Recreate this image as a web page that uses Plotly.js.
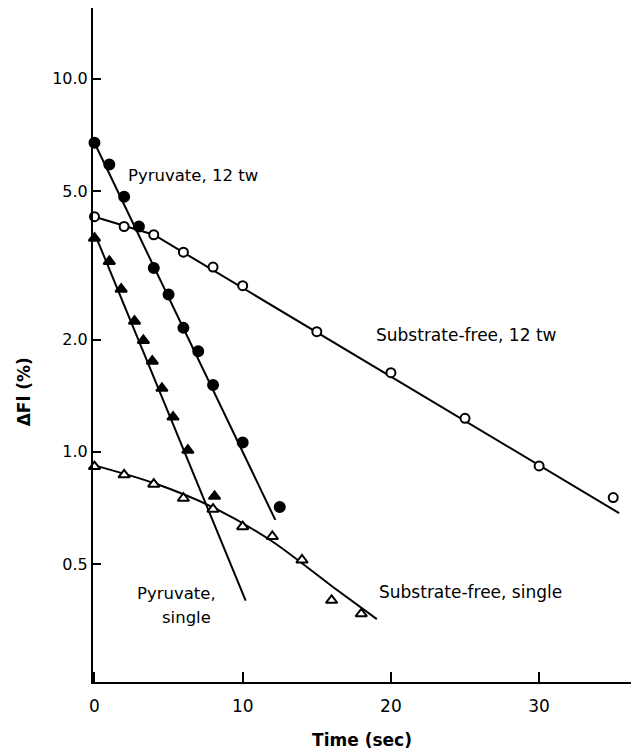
<!DOCTYPE html>
<html>
<head>
<meta charset="utf-8">
<script src="https://cdn.plot.ly/plotly-3.0.1.min.js"></script>
<style>html,body{margin:0;padding:0;background:#fff;}#chart{width:631px;height:750px;}</style>
</head>
<body>
<div id="chart"></div>
<script>
// Measured points
const pyr12X = [0, 1, 2, 3, 4, 5, 6, 7, 8, 10, 12.5];
const pyr12Y = [6.74, 5.89, 4.83, 4.02, 3.11, 2.64, 2.15, 1.86, 1.51, 1.06, 0.711];
const pyrSingleX = [0, 1, 1.8, 2.7, 3.3, 3.9, 4.55, 5.3, 6.3, 8.1];
const pyrSingleY = [3.74, 3.24, 2.73, 2.24, 1.99, 1.75, 1.48, 1.24, 1.01, 0.76];
const sf12X = [0, 2, 4, 6, 8, 10, 15, 20, 25, 30, 35];
const sf12Y = [4.27, 4.02, 3.82, 3.43, 3.13, 2.79, 2.10, 1.63, 1.23, 0.917, 0.754];
const sfSingleX = [0, 2, 4, 6, 8, 10, 12, 14, 16, 18];
const sfSingleY = [0.913, 0.868, 0.819, 0.751, 0.702, 0.630, 0.593, 0.513, 0.40, 0.368];

// Drawn fit lines
const pyr12LineX = [0, 12.2];
const pyr12LineY = [6.74, 0.657];
const pyrSingleLineX = [0, 10.2];
const pyrSingleLineY = [3.86, 0.399];
const sf12LineX = [0, 4, 35.4];
const sf12LineY = [4.27, 3.82, 0.685];
const sfSingleLineX = [0, 4, 8, 12, 16, 19.05];
const sfSingleLineY = [0.92, 0.825, 0.71, 0.575, 0.437, 0.356];

// Axis ticks
const xTickVals = [0, 10, 20, 30];
const xTickText = ['0', '10', '20', '30'];
const yTickVals = [0.5, 1, 2, 5, 10];
const yTickText = ['0.5', '1.0', '2.0', '5.0', '10.0'];

const FONT = 'DejaVu Sans, Liberation Sans, Arial, sans-serif';

function lineTrace(x, y, shape) {
  return {x: x, y: y, type: 'scatter', mode: 'lines',
    line: {color: '#000', width: 2, shape: shape || 'linear', smoothing: 0.8},
    hoverinfo: 'skip', showlegend: false};
}
function markTrace(x, y, symbol, size, filled) {
  return {x: x, y: y, type: 'scatter', mode: 'markers', cliponaxis: false, showlegend: false,
    marker: {symbol: symbol, size: size, color: filled ? '#000' : '#fff',
      line: {color: '#000', width: 2}}};
}

const data = [
  lineTrace(pyr12LineX, pyr12LineY),
  lineTrace(pyrSingleLineX, pyrSingleLineY),
  lineTrace(sf12LineX, sf12LineY),
  lineTrace(sfSingleLineX, sfSingleLineY, 'spline'),
  markTrace(pyr12X, pyr12Y, 'circle', 10, true),
  markTrace(pyrSingleX, pyrSingleY, 'triangle-up', 10, true),
  markTrace(sf12X, sf12Y, 'circle', 9, false),
  markTrace(sfSingleX, sfSingleY, 'triangle-up', 10, false)
];

function ann(text, x, y, extra) {
  return Object.assign({text: text, xref: 'paper', yref: 'paper', x: x, y: y,
    xanchor: 'center', yanchor: 'middle', showarrow: false,
    font: {family: FONT, size: 16.5, color: '#000'}}, extra || {});
}

const layout = {
  width: 631, height: 750,
  margin: {l: 93, r: 0, t: 8, b: 68},
  paper_bgcolor: '#fff', plot_bgcolor: '#fff',
  font: {family: FONT, size: 16, color: '#000'},
  showlegend: false,
  xaxis: {
    range: [-0.1, 36.2], showgrid: false, zeroline: false,
    showline: true, linecolor: '#000', linewidth: 2,
    ticks: 'inside', ticklen: 10, tickwidth: 2, tickcolor: '#000',
    tickvals: xTickVals, ticktext: xTickText, ticklabelstandoff: 8,
    tickfont: {family: FONT, size: 17, color: '#000'},
    title: {text: 'Time (sec)', font: {family: FONT, size: 17, color: '#000', weight: 'bold'}, standoff: 20}
  },
  yaxis: {
    type: 'log', range: [-0.617, 1.19], showgrid: false, zeroline: false,
    showline: true, linecolor: '#000', linewidth: 2,
    ticks: 'inside', ticklen: 8, tickwidth: 2, tickcolor: '#000',
    tickvals: yTickVals, ticktext: yTickText,
    tickfont: {family: FONT, size: 16, color: '#000'}
  },
  annotations: [
    ann('ΔFl (%)', -0.128, 0.43, {textangle: -90, font: {family: FONT, size: 17, color: '#000', weight: 'bold'}}),
    ann('Pyruvate, 12 tw', 0.185, 0.751),
    ann('Substrate-free, 12 tw', 0.694, 0.515, {font: {family: FONT, size: 17, color: '#000'}}),
    ann('Pyruvate,', 0.155, 0.131),
    ann('single', 0.174, 0.095),
    ann('Substrate-free, single', 0.702, 0.134, {font: {family: FONT, size: 17, color: '#000'}})
  ]
};

Plotly.newPlot('chart', data, layout, {displayModeBar: false, staticPlot: true});
</script>
</body>
</html>
